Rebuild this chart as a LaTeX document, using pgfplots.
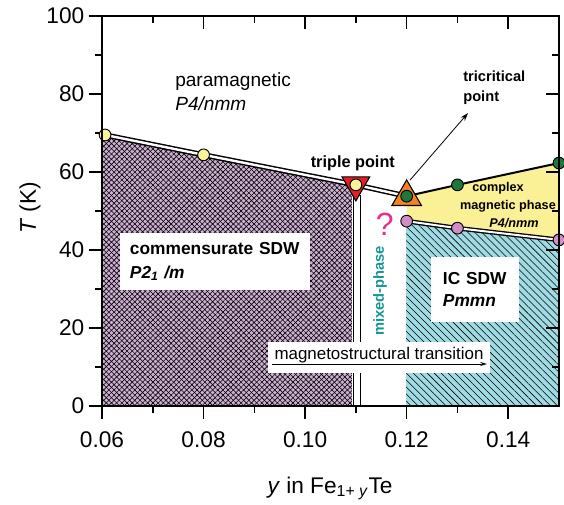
\documentclass[border=0pt]{standalone}
\usepackage{fontspec}
\setmainfont{Liberation Sans}
\usepackage{pgfplots}
\pgfplotsset{compat=1.18}
\usetikzlibrary{patterns.meta,arrows.meta}

\definecolor{cmsdw}{RGB}{206,176,210}
\definecolor{icsdw}{RGB}{160,218,226}
\definecolor{cplx}{RGB}{250,240,150}
\definecolor{ptyellow}{RGB}{250,244,150}
\definecolor{ptgreen}{RGB}{30,120,60}
\definecolor{ptpink}{RGB}{210,140,200}
\definecolor{ptred}{RGB}{228,30,36}
\definecolor{ptorange}{RGB}{245,130,30}
\definecolor{mixteal}{RGB}{20,150,150}
\definecolor{qmag}{RGB}{232,45,138}

\begin{document}
\begin{tikzpicture}
\useasboundingbox (-76.5pt,-73.5pt) rectangle (346.5pt,304.5pt);
\begin{axis}[
  at={(0pt,0pt)}, anchor=south west,
  scale only axis, width=342.75pt, height=292.5pt,
  xmin=0.06, xmax=0.15, ymin=0, ymax=100,
  clip=false,
  xtick={0.06,0.08,0.10,0.12,0.14},
  ytick={0,20,40,60,80,100},
  minor x tick num=1, minor y tick num=1,
  xtick pos=left, ytick pos=left,
  tick align=outside,
  major tick length=9.75pt, minor tick length=5pt,
  axis line style={line width=1.3pt},
  tick style={line width=1.1pt, color=black},
  scaled x ticks=false,
  x tick label style={/pgf/number format/.cd, fixed, fixed zerofill, precision=2, assume math mode=true, /tikz/.cd, font=\fontsize{17}{17}\selectfont, yshift=-6pt},
  y tick label style={/pgf/number format/assume math mode=true, font=\fontsize{17}{17}\selectfont},
  xlabel={\textit{y} in Fe\textsubscript{1+ \textit{y}}Te},
  xlabel style={font=\fontsize{17}{20}\selectfont, at={(axis description cs:0.499,-0.212)}, anchor=center},
  ylabel={\textit{T} (K)},
  ylabel style={font=\fontsize{17}{20}\selectfont, at={(axis description cs:-0.1575,0.508)}, anchor=center},
]
% commensurate SDW region
\addplot[draw=none, fill=cmsdw] coordinates {(0.06,0) (0.06,69.7) (0.08,64.4) (0.1092,56.8) (0.1092,0)} --cycle;
\addplot[draw=none, pattern={Lines[angle=45,distance=2.75pt,line width=0.45pt]}, pattern color=black] coordinates {(0.06,0) (0.06,69.7) (0.08,64.4) (0.1092,56.8) (0.1092,0)} --cycle;
\addplot[draw=none, pattern={Lines[angle=-45,distance=2.75pt,line width=0.45pt]}, pattern color=black] coordinates {(0.06,0) (0.06,69.7) (0.08,64.4) (0.1092,56.8) (0.1092,0)} --cycle;
% IC SDW region
\addplot[draw=none, fill=icsdw] coordinates {(0.1199,0) (0.1199,47.4) (0.13,45.6) (0.15,42.6) (0.15,0)} --cycle;
\addplot[draw=none, pattern={Lines[angle=-45,distance=3.7pt,line width=0.42pt]}, pattern color=black] coordinates {(0.1199,0) (0.1199,47.4) (0.13,45.6) (0.15,42.6) (0.15,0)} --cycle;
% complex magnetic phase
\addplot[draw=none, fill=cplx] coordinates {(0.12,53.8) (0.13,56.7) (0.15,62.3) (0.15,42.6) (0.13,45.6) (0.12,47.4)} --cycle;
% boundaries
\addplot[black, line width=1.1pt, double=white, double distance=1.8pt, line join=round] coordinates {(0.0606,69.5) (0.08,64.4) (0.11,56.7) (0.12,53.8)};
\addplot[black, line width=1.5pt] coordinates {(0.12,53.8) (0.13,56.7) (0.15,62.3)};
\addplot[black, line width=1pt, double=white, double distance=1.5pt, line join=round] coordinates {(0.12,47.4) (0.13,45.6) (0.15,42.6)};
% white bar
\addplot[draw=black, line width=0.8pt, fill=white] coordinates {(0.10945,0) (0.10945,54) (0.11085,54) (0.11085,0)} --cycle;

% labels
\node[anchor=west, align=left, font=\fontsize{14.3}{18}\selectfont, inner sep=0pt] at (axis cs:0.07438,80.5) {paramagnetic\\\textit{P4/nmm}};
\node[fill=white, inner xsep=7.5pt, inner ysep=0pt, text width=127.5pt, minimum height=42.75pt, align=left, font=\bfseries\fontsize{13}{18}\selectfont] at (axis cs:0.08225,37.05) {commensurate SDW\\\textit{P2\textsubscript{1} /m}};
\node[fill=white, inner xsep=9pt, inner ysep=0pt, text width=48pt, minimum height=48.75pt, align=left, font=\bfseries\fontsize{13}{16.5}\selectfont] at (axis cs:0.13345,29.87) {IC SDW\\\textit{Pmmn}};
\node[fill=white, minimum width=166.5pt, minimum height=23.25pt, inner sep=0pt] at (axis cs:0.11455,12.44) {};
\node[font=\fontsize{12.7}{14}\selectfont, inner sep=0pt] at (axis cs:0.11455,13.1) {magnetostructural transition};
\draw[-{Stealth[length=5pt,width=3pt]}, line width=0.6pt] (axis cs:0.0935,10.77) -- (axis cs:0.1358,10.77);
\node[font=\bfseries\fontsize{12.2}{14}\selectfont] at (axis cs:0.1094,62.3) {triple point};
\node[anchor=west, align=left, font=\bfseries\fontsize{11}{15}\selectfont, inner sep=0pt] at (axis cs:0.1311,81.5) {tricritical\\point};
\node[font=\bfseries\fontsize{9.5}{11}\selectfont, inner sep=0pt] at (axis cs:0.13798,55.9) {complex};
\node[font=\bfseries\fontsize{9.5}{11}\selectfont, inner sep=0pt] at (axis cs:0.13995,51.3) {magnetic phase};
\node[font=\bfseries\itshape\fontsize{9.5}{11}\selectfont, inner sep=0pt] at (axis cs:0.14113,46.9) {P4/nmm};
\node[rotate=90, font=\bfseries\fontsize{11}{13}\selectfont, text=mixteal] at (axis cs:0.11475,29.5) {mixed-phase};
\node[font=\fontsize{24}{26}\selectfont, text=qmag] at (axis cs:0.11567,46.6) {?};
\draw[-{Stealth[length=6pt,width=4pt]}, line width=0.6pt] (axis cs:0.12065,57.9) -- (axis cs:0.13207,75.1);

% markers
\addplot[only marks, mark=*, mark size=4.4pt, mark options={fill=ptyellow, draw=black, line width=0.7pt}] coordinates {(0.0606,69.5) (0.08,64.4)};
\addplot[only marks, mark=triangle*, mark size=12pt, mark options={rotate=180, fill=ptred, draw=black, line width=0.8pt}] coordinates {(0.11,56.7)};
\addplot[only marks, mark=*, mark size=4.4pt, mark options={fill=ptyellow, draw=black, line width=0.7pt}] coordinates {(0.11,56.7)};
\addplot[only marks, mark=triangle*, mark size=12.8pt, mark options={fill=ptorange, draw=black, line width=0.8pt}] coordinates {(0.12,53.6)};
\addplot[only marks, mark=*, mark size=4.4pt, mark options={fill=ptgreen, draw=black, line width=0.7pt}] coordinates {(0.12,53.8) (0.13,56.7) (0.15,62.3)};
\addplot[only marks, mark=*, mark size=4.4pt, mark options={fill=ptpink, draw=black, line width=0.7pt}] coordinates {(0.12,47.4) (0.13,45.6) (0.15,42.6)};
\end{axis}
\begin{axis}[
  at={(0pt,0pt)}, anchor=south west,
  scale only axis, width=342.75pt, height=292.5pt,
  xmin=0.06, xmax=0.15, ymin=0, ymax=100,
  xtick={0.06,0.08,0.10,0.12,0.14},
  ytick={0,20,40,60,80,100},
  minor x tick num=1, minor y tick num=1,
  xtick pos=right, ytick pos=right,
  tick align=inside,
  major tick length=9.75pt, minor tick length=5pt,
  axis line style={line width=1.3pt},
  tick style={line width=1.1pt, color=black},
  xticklabels={}, yticklabels={},
]
\end{axis}
\end{tikzpicture}
\end{document}
